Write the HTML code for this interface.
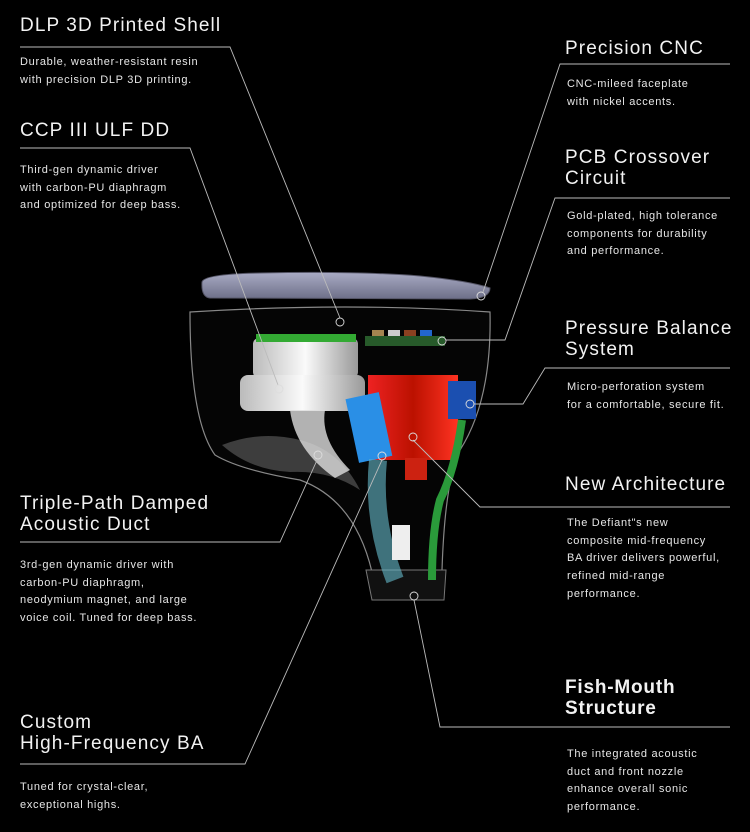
<!DOCTYPE html>
<html><head><meta charset="utf-8"><style>
html,body{margin:0;padding:0;background:#000;}
body{width:750px;height:832px;position:relative;overflow:hidden;font-family:"Liberation Sans",sans-serif;color:#fff;}
.t{position:absolute;font-size:19px;line-height:21px;color:#f2f2f2;letter-spacing:1.1px;}
.b{font-weight:bold;letter-spacing:0.8px;}
.d{position:absolute;font-size:11px;line-height:17.7px;color:#e6e6e6;letter-spacing:0.7px;}
svg{position:absolute;left:0;top:0;}
</style></head><body>
<svg width="750" height="832" viewBox="0 0 750 832">
<defs>
<linearGradient id="fp" x1="0" y1="0" x2="0" y2="1"><stop offset="0" stop-color="#a9abc4"/><stop offset="1" stop-color="#6d6f88"/></linearGradient>
<linearGradient id="wh" x1="0" y1="0" x2="1" y2="0"><stop offset="0" stop-color="#bbb"/><stop offset="0.5" stop-color="#fafafa"/><stop offset="1" stop-color="#999"/></linearGradient>
<linearGradient id="rd" x1="0" y1="0" x2="1" y2="0"><stop offset="0" stop-color="#e22"/><stop offset="0.5" stop-color="#b10"/><stop offset="1" stop-color="#f32"/></linearGradient>
</defs>
<path d="M190 312 Q350 302 490 312 Q492 400 460 450 Q445 480 442 570 L372 572 Q355 500 300 480 Q240 470 215 455 Q190 420 190 312 Z" fill="#050505" stroke="#888" stroke-width="1.2"/>
<path d="M222 445 Q260 430 300 440 Q340 450 360 490 Q330 470 290 472 Q250 470 222 445Z" fill="#555" opacity="0.7"/>
<path d="M366 570 L446 570 L444 600 L372 600Z" fill="#111" stroke="#777"/>
<path d="M202 282 Q204 274 260 273 Q360 271 420 276 Q470 281 490 288 Q490 298 470 299 L210 298 Q201 297 202 282Z" fill="url(#fp)" stroke="#556"/>
<rect x="253" y="338" width="105" height="40" rx="6" fill="url(#wh)"/>
<rect x="240" y="375" width="125" height="36" rx="8" fill="url(#wh)"/>
<rect x="256" y="334" width="100" height="8" fill="#3a3" />
<path d="M290 410 L325 410 Q320 440 350 470 L335 478 Q295 450 290 410Z" fill="#ddd" opacity="0.8"/>
<rect x="365" y="336" width="80" height="10" fill="#275a2a"/>
<rect x="372" y="330" width="12" height="6" fill="#a58550"/><rect x="388" y="330" width="12" height="6" fill="#ccc"/><rect x="404" y="330" width="12" height="6" fill="#8a4020"/><rect x="420" y="330" width="12" height="6" fill="#2266cc"/>
<rect x="368" y="375" width="90" height="85" fill="url(#rd)"/>
<rect x="405" y="458" width="22" height="22" fill="#c21"/>
<rect x="448" y="381" width="28" height="38" fill="#1b4fb0"/>
<path d="M462 420 Q455 470 440 500 Q432 530 432 580" stroke="#2a9a3a" stroke-width="8" fill="none"/>
<rect x="352" y="395" width="34" height="65" fill="#2a8fe6" transform="rotate(-12 369 428)"/>
<path d="M378 460 Q372 520 395 580" stroke="#6bc" stroke-width="18" fill="none" opacity="0.6"/>
<rect x="392" y="525" width="18" height="35" fill="#eee"/>
<g stroke="#bbb" stroke-width="0.9" fill="none">
<path d="M20 47 H230 L340 318"/>
<path d="M20 148 H190 L278 385"/>
<path d="M20 542 H280 L318 458"/>
<path d="M20 764 H245 L382 460"/>
<path d="M730 64 H560 L483 292"/>
<path d="M730 198 H555 L505 340 H446"/>
<path d="M730 368 H545 L523 404 H474"/>
<path d="M730 507 H480 L413 440"/>
<path d="M730 727 H440 L414 600"/>
</g>
<g stroke="#ddd" stroke-width="0.9" fill="none">
<circle cx="340" cy="322" r="4"/><circle cx="279" cy="389" r="4"/><circle cx="318" cy="455" r="4"/><circle cx="382" cy="456" r="4"/>
<circle cx="481" cy="296" r="4"/><circle cx="442" cy="341" r="4"/><circle cx="470" cy="404" r="4"/><circle cx="413" cy="437" r="4"/><circle cx="414" cy="596" r="4"/>
</g>
</svg>
<div class="t" style="left:20px;top:15px">DLP 3D Printed Shell</div>
<div class="d" style="left:20px;top:54px">Durable, weather-resistant resin<br>with precision DLP 3D printing.</div>
<div class="t" style="left:20px;top:120px">CCP III ULF DD</div>
<div class="d" style="left:20px;top:162px">Third-gen dynamic driver<br>with carbon-PU diaphragm<br>and optimized for deep bass.</div>
<div class="t" style="left:20px;top:493px">Triple-Path Damped<br>Acoustic Duct</div>
<div class="d" style="left:20px;top:557px">3rd-gen dynamic driver with<br>carbon-PU diaphragm,<br>neodymium magnet, and large<br>voice coil. Tuned for deep bass.</div>
<div class="t" style="left:20px;top:712px">Custom<br>High-Frequency BA</div>
<div class="d" style="left:20px;top:779px">Tuned for crystal-clear,<br>exceptional highs.</div>
<div class="t" style="left:565px;top:38px">Precision CNC</div>
<div class="d" style="left:567px;top:76px">CNC-mileed faceplate<br>with nickel accents.</div>
<div class="t" style="left:565px;top:147px">PCB Crossover<br>Circuit</div>
<div class="d" style="left:567px;top:208px">Gold-plated, high tolerance<br>components for durability<br>and performance.</div>
<div class="t" style="left:565px;top:318px">Pressure Balance<br>System</div>
<div class="d" style="left:567px;top:379px">Micro-perforation system<br>for a comfortable, secure fit.</div>
<div class="t" style="left:565px;top:474px">New Architecture</div>
<div class="d" style="left:567px;top:515px">The Defiant"s new<br>composite mid-frequency<br>BA driver delivers powerful,<br>refined mid-range<br>performance.</div>
<div class="t b" style="left:565px;top:677px">Fish-Mouth<br>Structure</div>
<div class="d" style="left:567px;top:746px">The integrated acoustic<br>duct and front nozzle<br>enhance overall sonic<br>performance.</div>
</body></html>
